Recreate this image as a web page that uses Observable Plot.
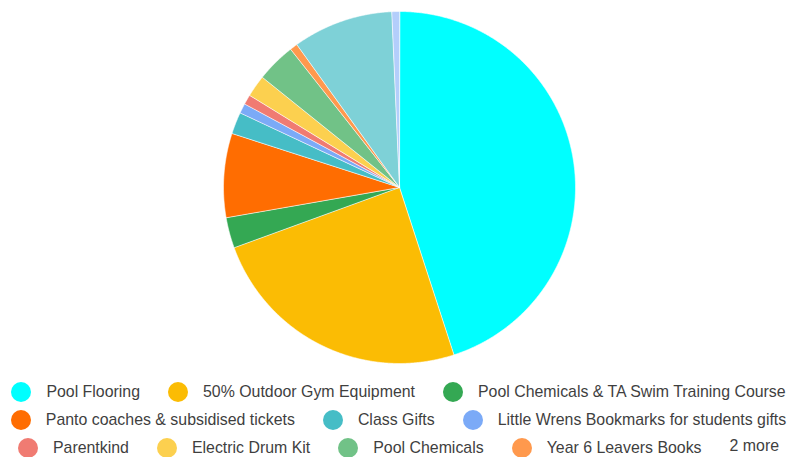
<!DOCTYPE html>
<html>
<head>
<meta charset="utf-8">
<script src="https://cdn.jsdelivr.net/npm/d3@7"></script>
<script src="https://cdn.jsdelivr.net/npm/@observablehq/plot@0.6"></script>
<style>
  html, body { margin: 0; padding: 0; overflow: hidden; background: #fff; }
  #chart svg { display: block; }
  .legend { font-family: Arial, "Liberation Sans", sans-serif; font-size: 15.9px; color: #3f3f3f; padding-top: 3px; padding-left: 10px; }
  .row { display: flex; justify-content: center; align-items: center; height: 28px; white-space: nowrap; }
  .item { display: flex; align-items: center; margin: 0 14px; }
  .sw { width: 20px; height: 20px; border-radius: 50%; margin-right: 15px; flex: none; }
  .more { margin: -4px 14px 0 14px; }
</style>
</head>
<body>
<div id="chart"></div>
<div class="legend" id="legend"></div>
<script>
const names = [
  "Pool Flooring",
  "50% Outdoor Gym Equipment",
  "Pool Chemicals & TA Swim Training Course",
  "Panto coaches & subsidised tickets",
  "Class Gifts",
  "Little Wrens Bookmarks for students gifts",
  "Parentkind",
  "Electric Drum Kit",
  "Pool Chemicals",
  "Year 6 Leavers Books",
  "Other (1)",
  "Other (2)"
];
const values = [44.9, 24.4, 2.8, 7.7, 2.0, 0.9, 0.9, 2.0, 3.6, 0.7, 9.2, 0.7];
const colors = ["#00ffff", "#fbbc04", "#34a853", "#ff6d01", "#46bdc6", "#7baaf7",
                "#f07b72", "#fcd04f", "#71c287", "#ff994d", "#7ed1d7", "#b3cefb"];
const legendRows = [[0, 1, 2], [3, 4, 5], [6, 7, 8, 9]];
const moreLabel = "2 more";

const arcs = d3.pie().sort(null)(values);
const features = arcs.map((a, i) => {
  const coords = [[0, 0]];
  const n = Math.max(2, Math.ceil((a.endAngle - a.startAngle) / 0.005));
  for (let k = 0; k <= n; k++) {
    const t = a.startAngle + (a.endAngle - a.startAngle) * k / n;
    coords.push([Math.sin(t), -Math.cos(t)]);
  }
  coords.push([0, 0]);
  return { type: "Feature", properties: { name: names[i] }, geometry: { type: "Polygon", coordinates: [coords] } };
});

const chart = Plot.plot({
  width: 787,
  height: 375,
  marginTop: 11,
  marginBottom: 12,
  marginLeft: 11,
  marginRight: 0,
  projection: { type: "identity", domain: { type: "MultiPoint", coordinates: [[-1, -1], [1, 1]] } },
  color: { domain: names, range: colors },
  marks: [
    Plot.geo(features, { fill: d => d.properties.name, stroke: "white", strokeWidth: 0.6 })
  ]
});
document.getElementById("chart").appendChild(chart);

const legend = document.getElementById("legend");
legendRows.forEach((row, r) => {
  const div = document.createElement("div");
  div.className = "row";
  row.forEach(i => {
    const it = document.createElement("div");
    it.className = "item";
    const sw = document.createElement("span");
    sw.className = "sw";
    sw.style.background = colors[i];
    const tx = document.createElement("span");
    tx.textContent = names[i];
    it.appendChild(sw); it.appendChild(tx);
    div.appendChild(it);
  });
  if (r === legendRows.length - 1) {
    const m = document.createElement("span");
    m.className = "more";
    m.textContent = moreLabel;
    div.appendChild(m);
  }
  legend.appendChild(div);
});
</script>
</body>
</html>
